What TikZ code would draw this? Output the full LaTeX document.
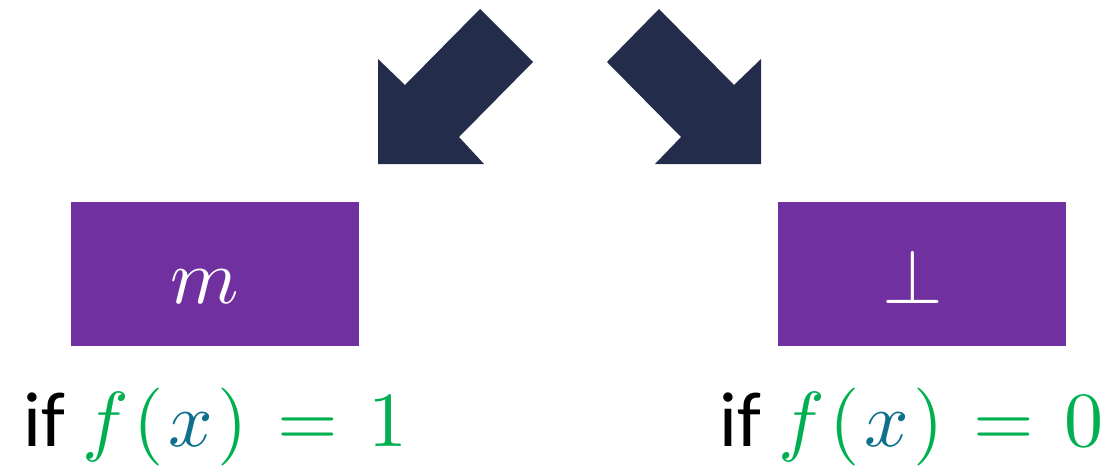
\documentclass[tikz,border=0pt]{standalone}
\usepackage{fontspec}
\setmainfont{Carlito}
\definecolor{navy}{RGB}{35,45,75}
\definecolor{boxpurple}{RGB}{112,48,160}
\definecolor{fgreen}{RGB}{0,176,80}
\definecolor{xteal}{RGB}{14,112,140}
\newcommand{\condexpr}[1]{$\color{fgreen}f\mkern1mu(\mkern1mu\textcolor{xteal}{x}\mkern1mu)\mkern2mu=\mkern2mu#1$}
\begin{document}
\begin{tikzpicture}[x=1pt,y=-1pt,
  bigarrow/.style={fill=navy,draw=none},
  resbox/.style={fill=boxpurple,draw=none},
  boxtext/.style={text=white,inner sep=0pt,anchor=base,scale=7.8,font=\fontsize{10}{12}\selectfont},
  condtext/.style={inner sep=0pt,anchor=base west,scale=7.8,font=\fontsize{10}{12}\selectfont}]
\useasboundingbox (0,0) rectangle (1102,466);
% arrows
\fill[bigarrow] (378,59) -- (405,85) -- (480,9) -- (533,62) -- (459,137) -- (484,164) -- (378,164) -- cycle;
\fill[bigarrow] (761,59) -- (734,85) -- (659,9) -- (607,62) -- (681,137) -- (655,164) -- (761,164) -- cycle;
% boxes
\fill[resbox] (71,202) rectangle (359,346);
\fill[resbox] (778,202) rectangle (1066,346);
\node[boxtext] (m) at (205,303) {$m$};
\node[boxtext] (bot) at (913,303) {$\bot$};
% conditions
\node[condtext] (c1) at (22,446) {if \condexpr{1}};
\node[condtext] (c0) at (718,446) {if \condexpr{0}};
\end{tikzpicture}
\end{document}
